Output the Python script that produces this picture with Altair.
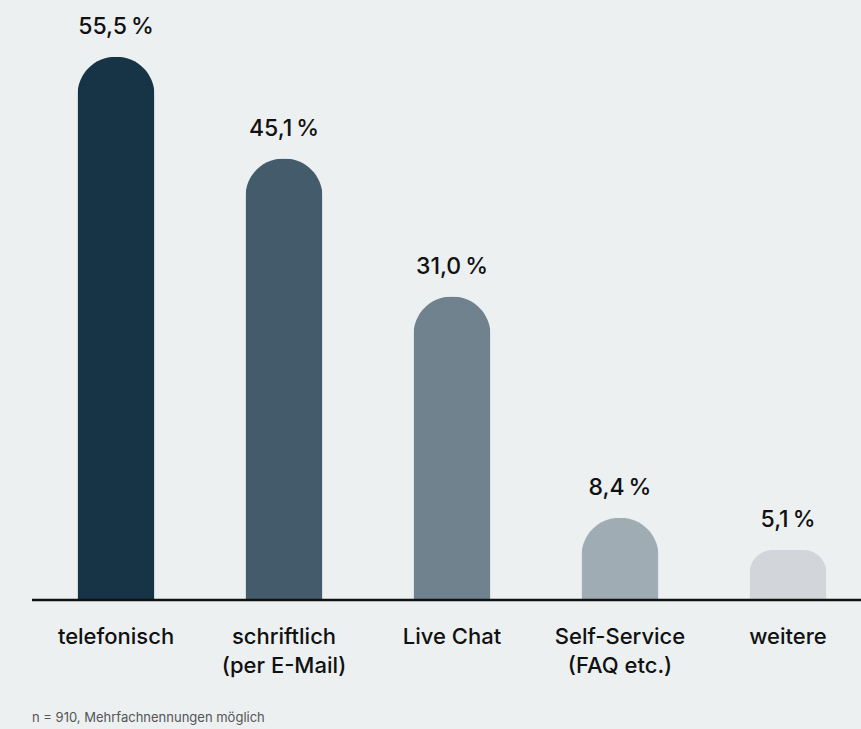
import altair as alt
import pandas as pd

categories = ["telefonisch", "schriftlich\n(per E-Mail)", "Live Chat", "Self-Service\n(FAQ etc.)", "weitere"]
values = [55.5, 45.1, 31.0, 8.4, 5.1]
colors = ["#173346", "#445B6B", "#71828F", "#A0ACB4", "#D2D6DB"]
footnote = "n = 910, Mehrfachnennungen möglich"

df = pd.DataFrame({
    "idx": list(range(len(categories))),
    "cat": categories,
    "value": values,
    "zero": [0] * len(values),
    "label": [f"{v:.1f}".replace(".", ",") + "\u2009%" for v in values],
    "color": colors,
})

W, H = 829, 600
FONT = "Inter"

x = alt.X("idx:Q", scale=alt.Scale(domain=[-0.5, 4.4345], nice=False, zero=False, padding=0), axis=None)
y_scale = alt.Scale(domain=[0, 61.3], nice=False, zero=True, padding=0)

base = alt.Chart(df)

bars_big = base.transform_filter("datum.value >= 6").mark_bar(
    size=77, cornerRadiusTopLeft=38, cornerRadiusTopRight=38,
).encode(
    x=x,
    y=alt.Y("value:Q", scale=y_scale, axis=None),
    color=alt.Color("color:N", scale=None, legend=None),
)

bars_small = base.transform_filter("datum.value < 6").mark_bar(
    size=77, cornerRadiusTopLeft=23, cornerRadiusTopRight=23,
).encode(
    x=x,
    y=alt.Y("value:Q", scale=y_scale, axis=None),
    color=alt.Color("color:N", scale=None, legend=None),
)

vals = base.mark_text(
    font=FONT, fontSize=23, fontWeight=500, color="#111111",
    baseline="alphabetic", dy=-23, align="center",
).encode(
    x=x,
    y=alt.Y("value:Q", scale=y_scale, axis=None),
    text="label:N",
)

cats = base.mark_text(
    font=FONT, fontSize=22, fontWeight=500, color="#111111",
    baseline="alphabetic", dy=44, align="center", lineBreak="\n", lineHeight=29,
).encode(
    x=x,
    y=alt.Y("zero:Q", scale=y_scale, axis=None),
    text="cat:N",
)

rule = base.transform_filter("datum.idx == 0").mark_rule(color="#111111", strokeWidth=2.5).encode(
    x=alt.value(0), x2=alt.value(W), y=alt.Y("zero:Q", scale=y_scale, axis=None)
)

note_df = pd.DataFrame({"t": [footnote]})
note = alt.Chart(note_df).mark_text(
    font=FONT, fontSize=13, color="#555555", align="left", baseline="alphabetic",
).encode(x=alt.value(0), y=alt.value(722), text="t:N")

chart = alt.layer(bars_big, bars_small, vals, cats, rule, note).properties(
    width=W, height=H,
    background="#ECF0F1",
    padding={"left": 32, "top": 0, "right": 0, "bottom": 129},
    autosize=alt.AutoSizeParams(type="none"),
).configure_view(stroke=None)

chart.save("out.html", embed_options={"renderer": "svg", "actions": False})
